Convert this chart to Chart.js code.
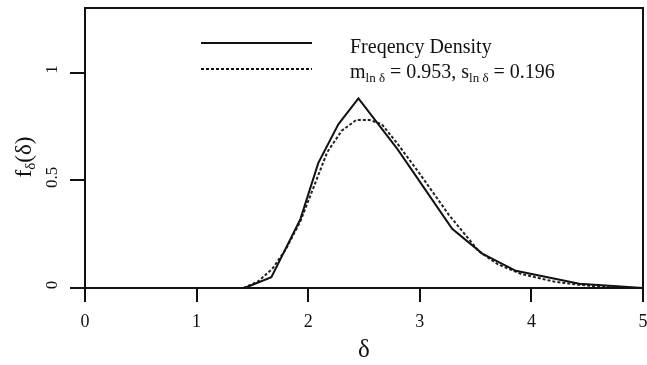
<!DOCTYPE html>
<html><head><meta charset="utf-8">
<script src="https://cdn.jsdelivr.net/npm/chart.js@4.4.0/dist/chart.umd.min.js"></script>
<style>html,body{margin:0;padding:0;background:#fff}#wrap{width:647px;height:365px}</style>
</head><body><div id="wrap"><canvas id="c" width="647" height="365"></canvas></div>
<script>
// ---- data ----
const xTicks = [0, 1, 2, 3, 4, 5];
const yTicks = [0, 0.5, 1];
const yTickLabels = ['0', '0.5', '1'];
const freqX = [1.43, 1.67, 1.93, 2.09, 2.27, 2.45, 2.80, 3.29, 3.56, 3.86, 4.43, 5.00];
const freqY = [0.00, 0.05, 0.32, 0.58, 0.76, 0.88, 0.645, 0.275, 0.16, 0.08, 0.02, 0.00];
const fitX = [1.42, 1.55, 1.68, 1.80, 1.93, 2.05, 2.17, 2.30, 2.43, 2.55, 2.66, 2.80, 3.00, 3.26, 3.53, 3.70, 3.91, 4.20, 4.42, 4.78];
const fitY = [0.00, 0.03, 0.09, 0.18, 0.31, 0.47, 0.63, 0.73, 0.78, 0.78, 0.76, 0.67, 0.53, 0.34, 0.17, 0.11, 0.065, 0.03, 0.015, 0.00];
const legendLabels = ['Freqency Density', 'fit'];

const SERIF = "'Liberation Serif', 'DejaVu Serif', serif";

const pts = (xs, ys) => xs.map((x, i) => ({x: x, y: ys[i]}));

function drawSub(ctx, parts, x, y) {
  let cx = x;
  for (const p of parts) {
    ctx.font = p[1] + 'px ' + SERIF;
    ctx.fillText(p[0], cx, y + p[2]);
    cx += ctx.measureText(p[0]).width;
  }
  return cx;
}
function widthSub(ctx, parts) {
  let w = 0;
  for (const p of parts) { ctx.font = p[1] + 'px ' + SERIF; w += ctx.measureText(p[0]).width; }
  return w;
}

const decor = {
  id: 'decor',
  afterDraw(chart) {
    const ctx = chart.ctx, a = chart.chartArea;
    const ys = chart.scales.y, xs = chart.scales.x;
    ctx.save();
    ctx.strokeStyle = '#111';
    ctx.lineWidth = 2;
    ctx.strokeRect(a.left, a.top, a.right - a.left, a.bottom - a.top);
    ctx.fillStyle = '#111';
    // y tick labels, rotated
    ctx.font = '17px ' + SERIF;
    ctx.textAlign = 'center';
    ctx.textBaseline = 'middle';
    yTicks.forEach((v, i) => {
      const py = ys.getPixelForValue(v);
      ctx.save();
      ctx.translate(53, py - 3);
      ctx.rotate(-Math.PI / 2);
      ctx.fillText(yTickLabels[i], 0, 0);
      ctx.restore();
    });
    // y title f_δ(δ)
    ctx.save();
    ctx.translate(31, 157);
    ctx.rotate(-Math.PI / 2);
    ctx.textAlign = 'left';
    ctx.textBaseline = 'alphabetic';
    const yt = [['f', 23, 0], ['δ', 15, 4], ['(δ)', 23, 0]];
    drawSub(ctx, yt, -widthSub(ctx, yt) / 2, 0);
    ctx.restore();
    // x title
    ctx.font = '25px ' + SERIF;
    ctx.textAlign = 'center';
    ctx.textBaseline = 'middle';
    ctx.fillText('δ', xs.getPixelForValue(2.5), 350);
    // legend
    ctx.lineWidth = 2;
    ctx.beginPath(); ctx.moveTo(201, 43); ctx.lineTo(312, 43); ctx.stroke();
    ctx.setLineDash([3, 2]);
    ctx.beginPath(); ctx.moveTo(201, 69); ctx.lineTo(312, 69); ctx.stroke();
    ctx.setLineDash([]);
    ctx.textAlign = 'left';
    ctx.textBaseline = 'alphabetic';
    drawSub(ctx, [[legendLabels[0], 20, 0]], 350, 53);
    drawSub(ctx, [['m', 20, 0], ['ln δ', 13, 4], [' = 0.953, s', 20, 0], ['ln δ', 13, 4], [' = 0.196', 20, 0]], 350, 78);
    ctx.restore();
  }
};

new Chart(document.getElementById('c'), {
  type: 'line',
  data: {
    datasets: [
      { label: legendLabels[0], data: pts(freqX, freqY), borderColor: '#111', borderWidth: 2, pointRadius: 0, tension: 0, fill: false },
      { label: legendLabels[1], data: pts(fitX, fitY), borderColor: '#222', borderWidth: 2, borderDash: [3, 2], pointRadius: 0, tension: 0, fill: false }
    ]
  },
  options: {
    responsive: false,
    animation: false,
    layout: { padding: { top: 8, right: 4, left: 0, bottom: 0 } },
    plugins: { legend: { display: false }, tooltip: { enabled: false } },
    scales: {
      x: {
        type: 'linear', min: 0, max: 5,
        afterBuildTicks: s => { s.ticks = xTicks.map(v => ({value: v})); },
        afterFit: s => { s.height = 77; s.paddingLeft = 0; s.paddingRight = 0; },
        grid: { drawOnChartArea: false, drawTicks: true, tickLength: 14, color: '#111', lineWidth: 2 },
        border: { display: false },
        ticks: { color: '#111', font: { family: SERIF, size: 18 }, padding: 9, maxRotation: 0 }
      },
      y: {
        type: 'linear', min: 0, max: 1.3,
        afterBuildTicks: s => { s.ticks = yTicks.map(v => ({value: v})); },
        afterFit: s => { s.width = 85; s.paddingTop = 0; s.paddingBottom = 0; },
        grid: { drawOnChartArea: false, drawTicks: true, tickLength: 15, color: '#111', lineWidth: 2 },
        border: { display: false },
        ticks: { display: false }
      }
    }
  },
  plugins: [decor]
});
</script>
</body></html>
